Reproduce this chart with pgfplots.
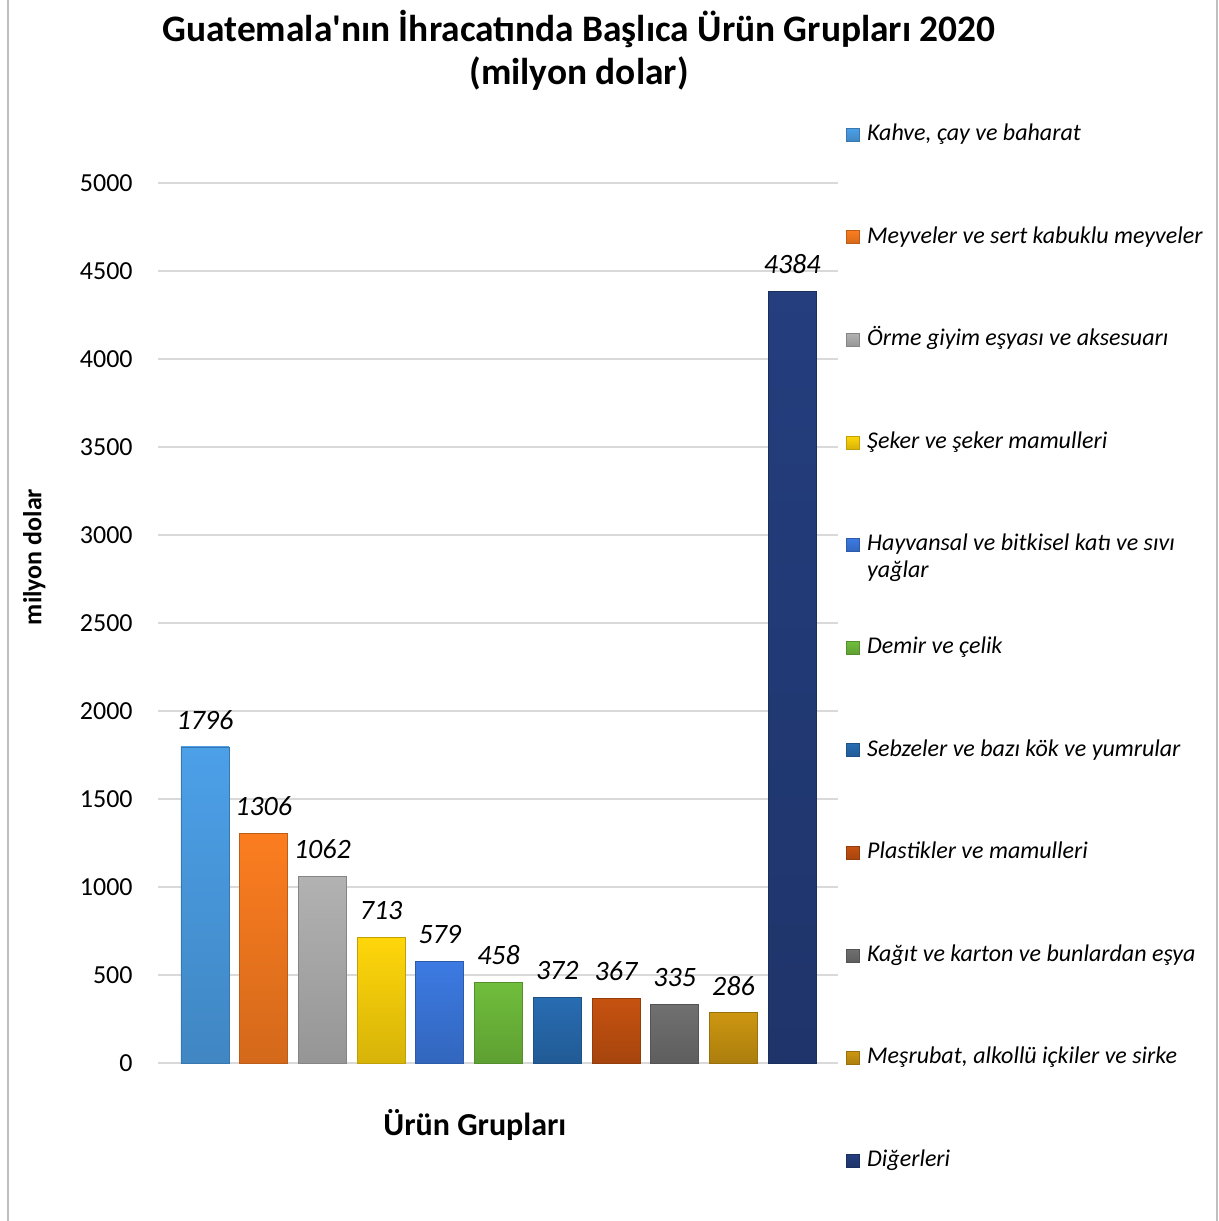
\documentclass[border=0pt]{standalone}
\usepackage{fontspec}
\setmainfont{Carlito}
\usepackage{pgfplots}
\pgfplotsset{compat=1.18}

% bar colours
\definecolor{cA}{RGB}{76,160,232}
\definecolor{cB}{RGB}{252,125,32}
\definecolor{cC}{RGB}{178,178,178}
\definecolor{cD}{RGB}{255,214,10}
\definecolor{cE}{RGB}{60,122,226}
\definecolor{cF}{RGB}{112,190,60}
\definecolor{cG}{RGB}{40,108,178}
\definecolor{cH}{RGB}{198,82,16}
\definecolor{cI}{RGB}{112,112,112}
\definecolor{cJ}{RGB}{204,150,16}
\definecolor{cK}{RGB}{36,62,126}
\definecolor{gridgray}{RGB}{217,217,217}
\definecolor{framegray}{RGB}{191,191,191}

\pgfplotsset{
  bevel/.style={top color=#1, bottom color=#1!84!black,
                draw=#1!75!black, line width=0.4pt, bar shift=0pt},
}

\begin{document}
\begin{tikzpicture}
\useasboundingbox (0,0) rectangle (609.5pt,-610.5pt);
\draw[framegray, line width=1pt] (4pt,0) -- (4pt,-610.5pt);
\draw[framegray, line width=1pt] (608.5pt,0) -- (608.5pt,-610.5pt);

\node[font=\fontsize{18.7}{22}\selectfont\bfseries, anchor=base] at (289.5pt,-20.5pt)
  {Guatemala\textquotesingle nın İhracatında Başlıca Ürün Grupları 2020};
\node[font=\fontsize{18.7}{22}\selectfont\bfseries, anchor=base] at (289.5pt,-42pt)
  {(milyon dolar)};

\begin{axis}[
    at={(79pt,-531.5pt)}, anchor=south west,
    scale only axis, width=340pt, height=440pt,
    ybar, bar width=24pt,
    xmin=-0.80, xmax=10.78,
    ymin=0, ymax=5000,
    xtick=\empty,
    ytick={0,500,...,5000},
    major tick length=0pt,
    axis line style={draw=none},
    ymajorgrids,
    grid style={gridgray, line width=0.65pt},
    yticklabel style={font=\fontsize{13}{15}\selectfont, anchor=east, inner sep=0pt, xshift=-12.5pt},
    /pgf/number format/assume math mode=true,
    /pgf/number format/1000 sep={},
    nodes near coords,
    every node near coord/.append style={font=\fontsize{14}{16}\selectfont\itshape,
        anchor=south, inner sep=0pt, yshift=8.5pt, black},
    ylabel={milyon dolar},
    every axis y label/.style={at={(rel axis cs:-0.182,0.575)}, rotate=90, anchor=center,
        font=\fontsize{13}{15}\selectfont\bfseries},
    xlabel={Ürün Grupları},
    every axis x label/.style={at={(rel axis cs:0.466,-0.0705)}, anchor=center,
        font=\fontsize{16}{18}\selectfont\bfseries},
    clip=false,
    legend image code/.code={\path[#1] (0pt,15.25pt) rectangle (6.5pt,21.75pt);},
    legend cell align=left,
    legend style={at={(rel axis cs:1.0118,1.0716)}, anchor=north west,
        draw=none, fill=none, inner sep=0pt, row sep=0pt, column sep=3.5pt,
        font=\fontsize{12}{13.5}\selectfont\itshape,
        nodes={inner sep=0pt, text height=10pt, text depth=41.3pt, align=left}},
]
\addplot[bevel=cA] coordinates {(0,1796)};
\addlegendentry{Kahve, çay ve baharat}
\addplot[bevel=cB] coordinates {(1,1306)};
\addlegendentry{Meyveler ve sert kabuklu meyveler}
\addplot[bevel=cC] coordinates {(2,1062)};
\addlegendentry{Örme giyim eşyası ve aksesuarı}
\addplot[bevel=cD] coordinates {(3,713)};
\addlegendentry{Şeker ve şeker mamulleri}
\addplot[bevel=cE] coordinates {(4,579)};
\addlegendentry{\begin{tabular}[t]{@{}l@{}}Hayvansal ve bitkisel katı ve sıvı\\yağlar\end{tabular}}
\addplot[bevel=cF] coordinates {(5,458)};
\addlegendentry{Demir ve çelik}
\addplot[bevel=cG] coordinates {(6,372)};
\addlegendentry{Sebzeler ve bazı kök ve yumrular}
\addplot[bevel=cH] coordinates {(7,367)};
\addlegendentry{Plastikler ve mamulleri}
\addplot[bevel=cI] coordinates {(8,335)};
\addlegendentry{Kağıt ve karton ve bunlardan eşya}
\addplot[bevel=cJ] coordinates {(9,286)};
\addlegendentry{Meşrubat, alkollü içkiler ve sirke}
\addplot[bevel=cK] coordinates {(10,4384)};
\addlegendentry{Diğerleri}
\end{axis}
\end{tikzpicture}
\end{document}
